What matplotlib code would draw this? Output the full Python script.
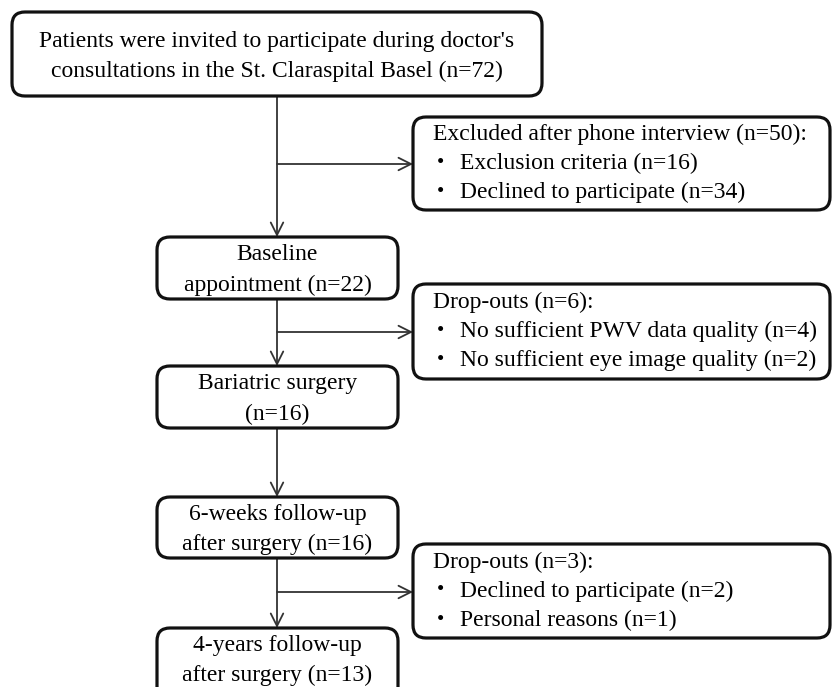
import matplotlib.pyplot as plt
from matplotlib.patches import FancyBboxPatch

plt.rcParams['font.family'] = ['Liberation Serif', 'DejaVu Serif']

# flow steps (main column)
step_text = [
    "Patients were invited to participate during doctor's\nconsultations in the St. Claraspital Basel",
    "Baseline\nappointment",
    "Bariatric surgery\n",
    "6-weeks follow-up\nafter surgery",
    "4-years follow-up\nafter surgery",
]
step_n = [72, 22, 16, 16, 13]

# side boxes (exclusions / drop-outs)
side_title = ["Excluded after phone interview", "Drop-outs", "Drop-outs"]
side_n = [50, 6, 3]
side_items = [
    ["Exclusion criteria", "Declined to participate"],
    ["No sufficient PWV data quality", "No sufficient eye image quality"],
    ["Declined to participate", "Personal reasons"],
]
side_item_n = [[16, 34], [4, 2], [2, 1]]

# layout in pixels
step_boxes = [(12, 12, 542, 96), (157, 237, 398, 299), (157, 366, 398, 428),
              (157, 497, 398, 558), (157, 628, 398, 700)]
side_boxes = [(413, 117, 830, 210), (413, 284, 830, 379), (413, 544, 830, 638)]
branch_y = [164, 332, 592]
xc = 277
fs = 17
lh = 29

fig = plt.figure(figsize=(8.32, 6.87), dpi=100)
ax = fig.add_axes([0, 0, 1, 1])
ax.set_xlim(0, 832)
ax.set_ylim(687, 0)
ax.axis('off')


def box(x0, y0, x1, y1):
    ax.add_patch(FancyBboxPatch((x0, y0), x1 - x0, y1 - y0,
                                boxstyle="round,pad=0,rounding_size=13",
                                fc='white', ec='#111111', lw=2.3, zorder=3))


arrow_kw = dict(arrowstyle='->,head_length=0.9,head_width=0.45',
                color='#333333', lw=1.3, shrinkA=0, shrinkB=0)

for i, (b, t, n) in enumerate(zip(step_boxes, step_text, step_n)):
    box(*b)
    lines = t.split("\n")
    if lines[-1] == "":
        lines[-1] = f"(n={n})"
    else:
        lines[-1] = lines[-1] + f" (n={n})"
    cx = (b[0] + b[2]) / 2
    cy = (b[1] + b[3]) / 2 + 2 if i < 4 else b[1] + 32
    for k, line in enumerate(lines):
        y = cy + (k - (len(lines) - 1) / 2) * 30
        ax.text(cx, y, line, ha='center', va='center', fontsize=fs, zorder=4)
    if i > 0:
        ax.annotate('', xy=(xc, b[1]), xytext=(xc, step_boxes[i - 1][3]),
                    arrowprops=arrow_kw, zorder=2)

for j, (b, title, n) in enumerate(zip(side_boxes, side_title, side_n)):
    box(*b)
    cy = (b[1] + b[3]) / 2
    ax.text(433, cy - lh, f"{title} (n={n}):", ha='left', va='center',
            fontsize=fs, zorder=4)
    for k, (item, m) in enumerate(zip(side_items[j], side_item_n[j])):
        y = cy + k * lh
        ax.text(437, y, "\u2022", ha='left', va='center', fontsize=fs - 2, zorder=4)
        ax.text(460, y, f"{item} (n={m})", ha='left', va='center',
                fontsize=fs, zorder=4)
    ax.annotate('', xy=(b[0], branch_y[j]), xytext=(xc, branch_y[j]),
                arrowprops=arrow_kw, zorder=2)

fig.savefig('out.png', dpi=100)
